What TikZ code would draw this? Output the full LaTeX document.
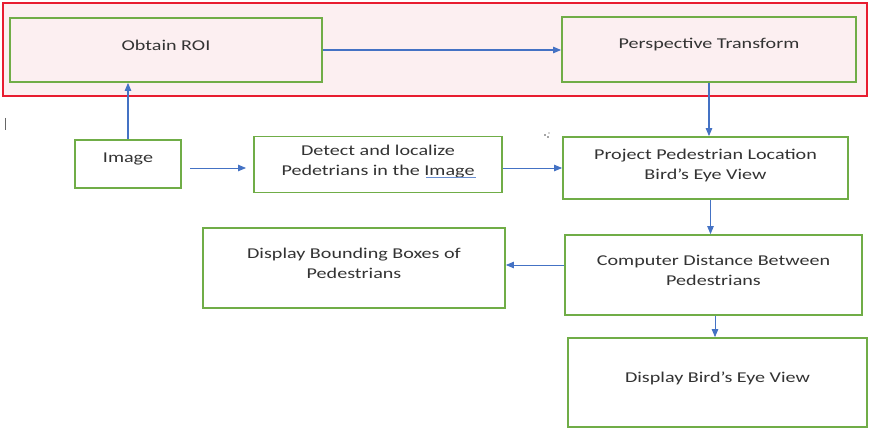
\documentclass[tikz,border=0pt]{standalone}
\usepackage{fontspec}
\setmainfont[FakeStretch=1.34]{Carlito}
\usetikzlibrary{arrows.meta}
\definecolor{gbox}{RGB}{112,173,71}
\definecolor{barrow}{RGB}{68,114,196}
\definecolor{rbox}{RGB}{232,28,48}
\definecolor{pinkfill}{RGB}{252,239,241}
\begin{document}
\begin{tikzpicture}[x=1pt,y=-1pt,
  box/.style={draw=gbox, line width=1.8pt, inner sep=0pt},
  txt/.style={align=center, inner sep=0pt, font=\fontsize{15}{20}\selectfont, text=black!80},
  arr/.style={draw=barrow, line width=1.1pt, -{Triangle[length=8pt,width=6.5pt]}}]
\useasboundingbox (0,0) rectangle (888,441);
\fill[white] (0,0) rectangle (888,441);
\node[draw=rbox, line width=1.6pt, fill=pinkfill, minimum width=864, minimum height=93,
  anchor=north west, inner sep=0pt] (roi) at (2,2) {};
\node[box, minimum width=312, minimum height=64] (obtain) at (166,50) {};
\node[box, minimum width=294, minimum height=65] (persp) at (709,49.5) {};
\node[box, minimum width=106, minimum height=48] (image) at (128,164) {};
\node[box, minimum width=248, minimum height=56] (detect) at (378,164.5) {};
\node[box, minimum width=285, minimum height=62] (project) at (705.5,168) {};
\node[box, minimum width=297, minimum height=80] (compute) at (713.5,275) {};
\node[box, minimum width=302, minimum height=80] (dispbb) at (354,268) {};
\node[box, minimum width=299, minimum height=89] (dispbird) at (717.5,382.5) {};
% texts
\node[txt] (obtain-t) at ([yshift=4.5pt]obtain.center) {Obtain ROI};
\node[txt] (persp-t) at ([yshift=5pt]persp.center) {Perspective Transform};
\node[txt] (image-t) at ([yshift=5pt]image.center) {Image};
\node[txt] (detect-t) at ([yshift=3pt]detect.center) {Detect and localize\\Pedetrians in the Image};
\node[txt] (project-t) at ([yshift=3pt]project.center) {Project Pedestrian Location\\Bird’s Eye View};
\node[txt] (compute-t) at ([yshift=4.5pt]compute.center) {Computer Distance Between\\Pedestrians};
\node[txt] (dispbb-t) at ([yshift=4.5pt]dispbb.center) {Display Bounding Boxes of\\Pedestrians};
\node[txt] (dispbird-t) at ([yshift=4.5pt]dispbird.center) {Display Bird’s Eye View};
% connectors
\draw[arr] (obtain.east) -- (persp.west |- obtain.east);
\draw[arr] (image.north) -- (image.north |- obtain.south);
\coordinate (fa) at (190,168);
\coordinate (fb) at (246,168);
\draw[arr, line width=0.8pt] (fa) -- (fb);
\draw[arr, line width=0.8pt] (detect.east |- project.west) -- (project.west);
\draw[arr] (persp.south) -- (persp.south |- project.north);
\draw[arr, line width=0.8pt] ([xshift=5pt]project.south) -- ([xshift=5pt]project.south |- compute.north);
\draw[arr, line width=0.8pt] ([yshift=10pt]compute.west) -- ([yshift=10pt]compute.west -| dispbb.east);
\draw[arr, line width=0.8pt] ([xshift=1.5pt]compute.south) -- ([xshift=1.5pt]compute.south |- dispbird.north);
% spell-check underline and stray marks
\draw[barrow!80, line width=1pt] (426,177) -- (476,177);
\draw[black!60, line width=0.8pt] (5,118) -- (5,130);
\fill[black!70] (545,135) circle (0.9) (548,137) circle (0.9) (549,133) circle (0.6);
\end{tikzpicture}
\end{document}
